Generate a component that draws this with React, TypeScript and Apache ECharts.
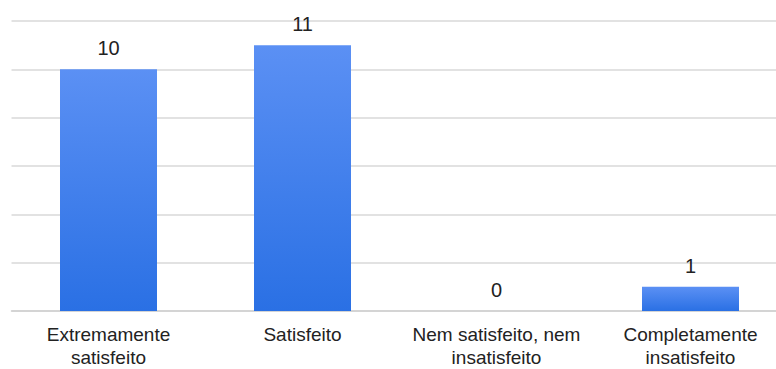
import React, { useEffect, useRef } from "react";
import * as echarts from "echarts";

const categories = [
  "Extremamente\nsatisfeito",
  "Satisfeito",
  "Nem satisfeito, nem\ninsatisfeito",
  "Completamente\ninsatisfeito",
];
const values = [10, 11, 0, 1];
const yTicks = { min: 0, max: 12, interval: 2 };

export default function App() {
  const ref = useRef<HTMLDivElement>(null);
  useEffect(() => {
    if (!ref.current) return;
    const chart = echarts.init(ref.current, null, { renderer: "svg" });
    chart.setOption({
      animation: false,
      backgroundColor: "#ffffff",
      grid: { left: 11.5, top: 21, width: 776, height: 291, containLabel: false },
      xAxis: {
        type: "category",
        data: categories,
        axisTick: { show: false },
        axisLine: { lineStyle: { color: "#cfcfcf", width: 1.5 } },
        axisLabel: {
          color: "#222222",
          fontFamily: "Liberation Sans, Arial, sans-serif",
          fontSize: 19,
          lineHeight: 23,
          margin: 12,
          interval: 0,
        },
      },
      yAxis: {
        type: "value",
        min: yTicks.min,
        max: yTicks.max,
        interval: yTicks.interval,
        axisLabel: { show: false },
        axisLine: { show: false },
        axisTick: { show: false },
        splitLine: { lineStyle: { color: "#d9d9d9", width: 1.5 } },
      },
      series: [
        {
          type: "bar",
          data: values,
          barWidth: "50%",
          itemStyle: {
            color: new echarts.graphic.LinearGradient(0, 0, 0, 1, [
              { offset: 0, color: "#5b90f4" },
              { offset: 1, color: "#2a70e4" },
            ]),
          },
          label: {
            show: true,
            position: "top",
            distance: 11,
            color: "#222222",
            fontFamily: "Liberation Sans, Arial, sans-serif",
            fontSize: 20,
          },
        },
      ],
    });
    return () => chart.dispose();
  }, []);
  return (
    <div
      style={{
        position: "fixed",
        left: 0,
        top: 0,
        width: 776,
        height: 369,
        overflow: "hidden",
        background: "#ffffff",
      }}
    >
      <div ref={ref} style={{ width: 800, height: 369 }} />
    </div>
  );
}
